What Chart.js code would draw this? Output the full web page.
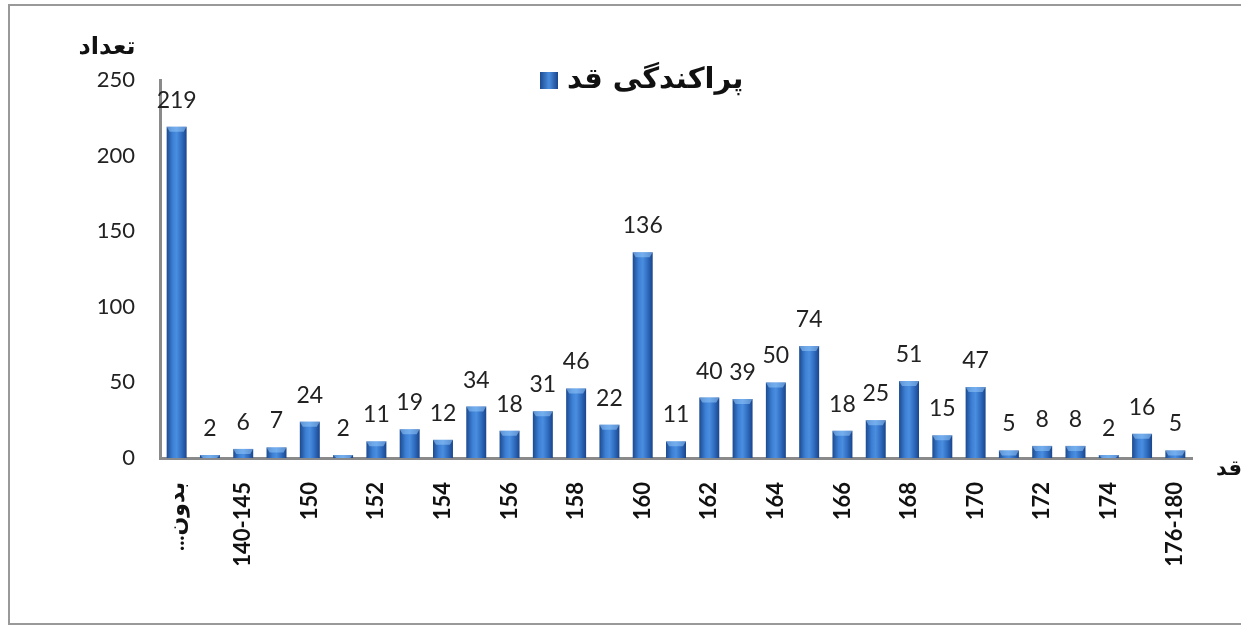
<!DOCTYPE html>
<html>
<head>
<meta charset="utf-8">
<script src="https://cdn.jsdelivr.net/npm/chart.js@4"></script>
<style>
html,body{margin:0;padding:0;background:#fff;}
#wrap{position:relative;width:1241px;height:630px;overflow:hidden;}
#frame{position:absolute;left:8px;top:4px;width:1250px;height:621px;border:2px solid #999;box-sizing:border-box;}
canvas{position:absolute;left:0;top:0;}
</style>
</head>
<body>
<div id="wrap">
<div id="frame"></div>
<canvas id="c" width="1241" height="630"></canvas>
</div>
<script>
const categories = ['بدون...', '<140', '140-145', '146-149', '150', '151', '152', '153', '154', '155', '156', '157', '158', '159', '160', '161', '162', '163', '164', '165', '166', '167', '168', '169', '170', '171', '172', '173', '174', '175', '176-180'];
const counts = [219, 2, 6, 7, 24, 2, 11, 19, 12, 34, 18, 31, 46, 22, 136, 11, 40, 39, 50, 74, 18, 25, 51, 15, 47, 5, 8, 8, 2, 16, 5];
const yTicks = [0, 50, 100, 150, 200, 250];
const seriesName = 'پراکندگی قد';
const yTitle = 'تعداد';
const xTitle = 'قد';

const NUM_FONT = 'Lato, "DejaVu Sans", sans-serif';
const FA_FONT = '"DejaVu Sans", sans-serif';
const BAR_PCT = 0.6;

function barGradient(ctx){
  const chart = ctx.chart;
  const area = chart.chartArea;
  if(!area) return '#2e6fc0';
  const xs = chart.scales.x;
  const cx = xs.getPixelForValue(ctx.dataIndex);
  const w = (area.right - area.left) / categories.length * BAR_PCT;
  const g = chart.ctx.createLinearGradient(cx - w/2, 0, cx + w/2, 0);
  g.addColorStop(0, '#1c4a8f');
  g.addColorStop(0.3, '#3c7fd4');
  g.addColorStop(0.5, '#4a8ee0');
  g.addColorStop(0.75, '#2f6cc0');
  g.addColorStop(1, '#1a448a');
  return g;
}

const extras = {
  id: 'extras',
  afterDatasetsDraw(chart){
    const c = chart.ctx;
    const meta = chart.getDatasetMeta(0);
    c.save();
    // top caps
    meta.data.forEach((bar) => {
      const w = bar.width;
      c.fillStyle = 'rgba(150,200,250,0.55)';
      c.beginPath();
      c.moveTo(bar.x - w/2, bar.y);
      c.lineTo(bar.x + w/2, bar.y);
      c.lineTo(bar.x + w/2 - 3, bar.y + Math.min(5, bar.base - bar.y));
      c.lineTo(bar.x - w/2 + 3, bar.y + Math.min(5, bar.base - bar.y));
      c.closePath();
      c.fill();
    });
    // value labels
    c.fillStyle = '#222';
    c.font = '23px ' + NUM_FONT;
    c.textAlign = 'center';
    c.textBaseline = 'alphabetic';
    meta.data.forEach((bar, i) => {
      c.fillText(String(counts[i]), bar.x, bar.y - 19);
    });
    // titles
    c.fillStyle = '#111';
    c.font = 'bold 24px ' + FA_FONT;
    c.textAlign = 'center';
    c.textBaseline = 'middle';
    c.fillText(yTitle, 107, 48);
    c.font = 'bold 21px ' + FA_FONT;
    c.fillText(xTitle, 1229, 470);
    // legend
    const lg = c.createLinearGradient(540, 0, 558, 0);
    lg.addColorStop(0, '#1c4a8f');
    lg.addColorStop(0.5, '#4a8ee0');
    lg.addColorStop(1, '#1a448a');
    c.fillStyle = lg;
    c.fillRect(540, 72, 18, 17);
    c.fillStyle = '#111';
    c.font = 'bold 29px ' + FA_FONT;
    c.textAlign = 'left';
    c.fillText(seriesName, 567, 80);
    c.restore();
  }
};

new Chart(document.getElementById('c'), {
  type: 'bar',
  data: {
    labels: categories,
    datasets: [{
      label: seriesName,
      data: counts,
      backgroundColor: barGradient,
      borderWidth: 0,
      barPercentage: BAR_PCT,
      categoryPercentage: 1.0
    }]
  },
  options: {
    responsive: false,
    animation: false,
    layout: { padding: { left: 0, right: 49, top: 80, bottom: 0 } },
    plugins: { legend: { display: false }, tooltip: { enabled: false } },
    scales: {
      x: {
        grid: { display: false, drawTicks: false },
        border: { display: true, color: '#8a8a8a', width: 3 },
        ticks: {
          autoSkip: false,
          maxRotation: 90,
          minRotation: 90,
          padding: 24,
          color: '#111',
          font: { family: NUM_FONT, size: 22, weight: 'bold' },
          callback: function(v, i){ return i % 2 === 0 ? categories[i] + '\u200F' : ''; }
        },
        afterFit(s){ s.height = 630 - 458; }
      },
      y: {
        min: 0,
        max: 250,
        afterBuildTicks(s){ s.ticks = yTicks.map(v => ({ value: v })); },
        grid: { display: false, drawTicks: false },
        border: { display: true, color: '#8a8a8a', width: 3 },
        ticks: {
          padding: 25,
          color: '#222',
          font: { family: NUM_FONT, size: 22 }
        },
        afterFit(s){ s.width = 160; }
      }
    }
  },
  plugins: [extras]
});
</script>
</body>
</html>
